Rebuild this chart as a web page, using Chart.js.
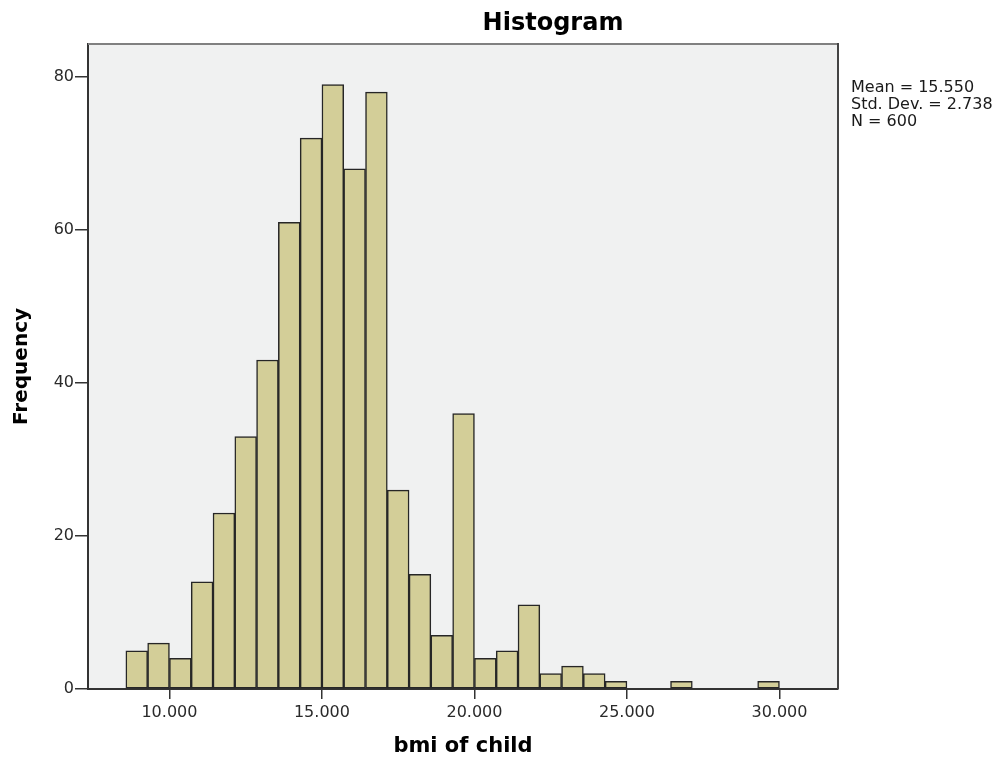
<!DOCTYPE html>
<html>
<head>
<meta charset="utf-8">
<script src="https://cdn.jsdelivr.net/npm/chart.js@4.4.0/dist/chart.umd.min.js"></script>
<style>
  html, body { margin: 0; padding: 0; background: #fff; }
</style>
</head>
<body>
<canvas id="hist" width="1004" height="759"></canvas>
<script>
// bins of width 5/7, lower edges
const binStarts = [8.571, 9.286, 10.000, 10.714, 11.429, 12.143, 12.857, 13.571, 14.286, 15.000,
                   15.714, 16.429, 17.143, 17.857, 18.571, 19.286, 20.000, 20.714, 21.429, 22.143,
                   22.857, 23.571, 24.286, 25.000, 25.714, 26.429, 27.143, 27.857, 28.571, 29.286];
const binWidth = 5 / 7;
const frequencies = [5, 6, 4, 14, 23, 33, 43, 61, 72, 79,
                     68, 78, 26, 15, 7, 36, 4, 5, 11, 2,
                     3, 2, 1, 0, 0, 1, 0, 0, 0, 1];
const xTicks = [10, 15, 20, 25, 30];
const yTicks = [0, 20, 40, 60, 80];
const statsLines = ['Mean = 15.550', 'Std. Dev. = 2.738', 'N = 600'];

const points = binStarts.map((s, i) => ({ x: s + binWidth / 2, y: frequencies[i] }));

const frame = {
    id: 'frame',
    beforeDraw(chart) {
        const { ctx, chartArea: a } = chart;
        ctx.save();
        ctx.fillStyle = '#fff';
        ctx.fillRect(0, 0, chart.width, chart.height);
        ctx.fillStyle = '#f0f1f1';
        ctx.fillRect(a.left, a.top, a.right - a.left, a.bottom - a.top);
        ctx.restore();
    },
    afterDraw(chart) {
        const { ctx, chartArea: a } = chart;
        ctx.save();
        ctx.lineWidth = 2;
        ctx.strokeStyle = '#808080';
        ctx.beginPath();
        ctx.moveTo(a.left, a.top);
        ctx.lineTo(a.right, a.top);
        ctx.stroke();
        ctx.strokeStyle = '#444';
        ctx.beginPath();
        ctx.moveTo(a.right, a.top - 1);
        ctx.lineTo(a.right, a.bottom);
        ctx.stroke();

        ctx.fillStyle = '#000';
        ctx.font = 'bold 24px "DejaVu Sans"';
        ctx.textAlign = 'center';
        ctx.textBaseline = 'middle';
        ctx.fillText('Histogram', 553, 24);

        ctx.fillStyle = '#1a1a1a';
        ctx.font = '16px "DejaVu Sans"';
        ctx.textAlign = 'left';
        ctx.textBaseline = 'alphabetic';
        statsLines.forEach((t, i) => ctx.fillText(t, a.right + 13, 92 + i * 17));
        ctx.restore();
    }
};

new Chart(document.getElementById('hist'), {
    type: 'bar',
    data: {
        datasets: [{
            data: points,
            backgroundColor: '#d3ce98',
            borderColor: '#262626',
            borderWidth: 1.5,
            borderSkipped: false,
            barPercentage: 1,
            categoryPercentage: 1
        }]
    },
    options: {
        responsive: false,
        animation: false,
        layout: { padding: { top: 44, right: 166, left: 0, bottom: 0 } },
        plugins: {
            legend: { display: false },
            tooltip: { enabled: false }
        },
        scales: {
            x: {
                type: 'linear',
                min: 7.33,
                max: 31.92,
                offset: false,
                afterFit: s => { s.height = 70; },
                afterBuildTicks: s => { s.ticks = xTicks.map(v => ({ value: v })); },
                grid: { display: true, offset: false, drawOnChartArea: false, drawTicks: true, tickLength: 10, color: '#333', lineWidth: 1.5 },
                border: { display: true, color: '#333', width: 2 },
                ticks: {
                    padding: 4,
                    color: '#2a2a2a',
                    font: { family: 'DejaVu Sans', size: 16 },
                    maxRotation: 0,
                    callback: v => v.toFixed(3)
                },
                title: {
                    display: true,
                    text: 'bmi of child',
                    color: '#000',
                    font: { family: 'DejaVu Sans', size: 21, weight: 'bold' },
                    padding: { top: 0, bottom: 0 }
                }
            },
            y: {
                min: 0,
                max: 84.3,
                afterFit: s => { s.width = 88; },
                afterBuildTicks: s => { s.ticks = yTicks.map(v => ({ value: v })); },
                grid: { display: true, drawOnChartArea: false, drawTicks: true, tickLength: 13, color: '#333', lineWidth: 1.5 },
                border: { display: true, color: '#333', width: 2 },
                ticks: {
                    padding: 1,
                    color: '#2a2a2a',
                    font: { family: 'DejaVu Sans', size: 16 }
                },
                title: {
                    display: true,
                    text: 'Frequency',
                    color: '#000',
                    font: { family: 'DejaVu Sans', size: 20, weight: 'bold' },
                    padding: { top: 10, bottom: 0 }
                }
            }
        }
    },
    plugins: [frame]
});
</script>
</body>
</html>
